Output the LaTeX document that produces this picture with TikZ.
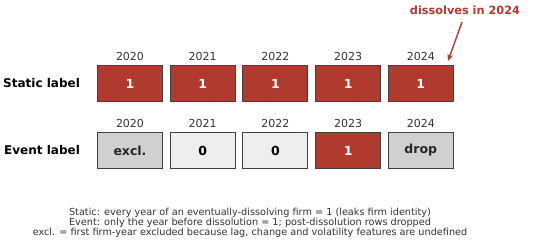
\documentclass[tikz,border=0pt]{standalone}
\usepackage{fontspec}
\setmainfont{DejaVu Sans}
\usepackage{xcolor}
\usepackage{tikz}
\usetikzlibrary{arrows.meta, positioning, calc}
\definecolor{dissred}{HTML}{B03A2E}
\definecolor{boxedge}{HTML}{404040}
\definecolor{exclgray}{HTML}{D0D0D0}
\definecolor{zerogray}{HTML}{EEEEEE}
\definecolor{textgray}{HTML}{333333}
\tikzset{
	cell/.style={rectangle, draw=boxedge, line width=1.1pt, minimum width=65pt, minimum height=36pt, font=\bfseries\fontsize{12.5}{14}\selectfont, inner sep=0pt},
	cell_pos/.style={cell, fill=dissred, text=white},
	cell_zero/.style={cell, fill=zerogray, text=black},
	cell_excl/.style={cell, fill=exclgray, text=black!85},
	year/.style={font=\fontsize{11}{12}\selectfont, text=textgray, above=3pt, inner sep=1pt},
	rowlabel/.style={font=\bfseries\fontsize{12}{14}\selectfont, anchor=west},
	note/.style={font=\fontsize{9.7}{10}\selectfont, text=textgray, align=center},
	diss_arrow/.style={-{Stealth[length=7pt, width=6pt]}, draw=dissred, line width=1.4pt}
}
\begin{document}
\begin{tikzpicture}[x=1pt, y=-1pt]
	\useasboundingbox (0,0) rectangle (550,244);
	% static row
	\node[rowlabel, inner sep=0pt] (lstatic) at (3,83.5) {Static label};
	\node[cell_pos] (s0) at (130,83.5) {1};
	\node[cell_pos, right=6.6pt of s0] (s1) {1};
	\node[cell_pos, right=6.6pt of s1] (s2) {1};
	\node[cell_pos, right=6.6pt of s2] (s3) {1};
	\node[cell_pos, right=6.6pt of s3] (s4) {1};
	\node[year] at (s0.north) {2020};
	\node[year] at (s1.north) {2021};
	\node[year] at (s2.north) {2022};
	\node[year] at (s3.north) {2023};
	\node[year] at (s4.north) {2024};
	% event row
	\node[rowlabel, inner sep=0pt] (levent) at (4,150.5) {Event label};
	\node[cell_excl] (e0) at (130,150.5) {excl.};
	\node[cell_zero, right=6.6pt of e0] (e1) {0};
	\node[cell_zero, right=6.6pt of e1] (e2) {0};
	\node[cell_pos, right=6.6pt of e2] (e3) {1};
	\node[cell_excl, right=6.6pt of e3] (e4) {drop};
	\node[year] at (e0.north) {2020};
	\node[year] at (e1.north) {2021};
	\node[year] at (e2.north) {2022};
	\node[year] at (e3.north) {2023};
	\node[year] at (e4.north) {2024};
	% dissolution marker
	\node[font=\bfseries\fontsize{11.3}{13}\selectfont, text=dissred, inner sep=1pt] (diss) at (465,10) {dissolves in 2024};
	\coordinate (disstip) at (448,61);
	\draw[diss_arrow] (462,22) -- (disstip);
	% notes
	\node[note] (notes) at (250,223) {Static: every year of an eventually-dissolving firm = 1 (leaks firm identity)\\Event: only the year before dissolution = 1; post-dissolution rows dropped\\excl. = first firm-year excluded because lag, change and volatility features are undefined};
\end{tikzpicture}
\end{document}
